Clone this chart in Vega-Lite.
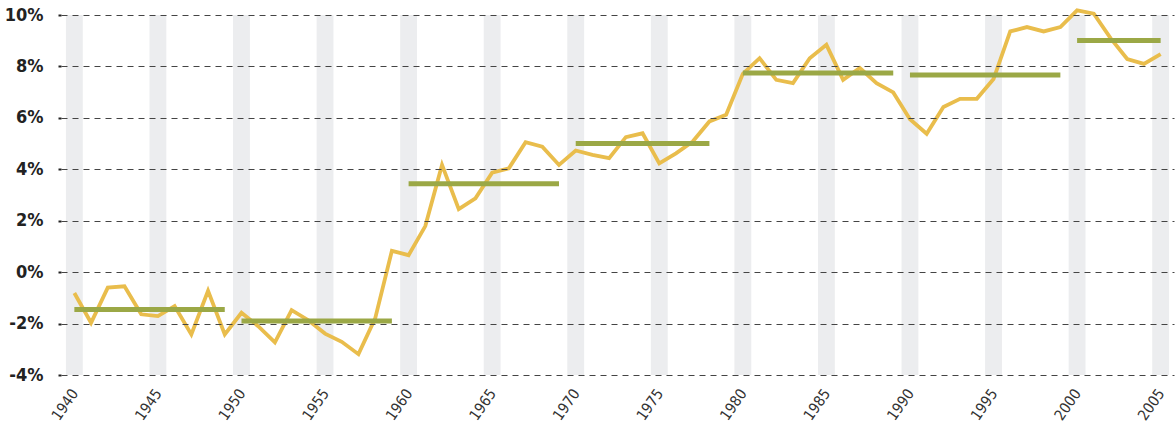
{
  "$schema": "https://vega.github.io/schema/vega-lite/v6.json",
  "width": 1113,
  "height": 360,
  "autosize": {"type": "none"},
  "padding": {"left": 61, "top": 15, "right": 1, "bottom": 53},
  "background": "white",
  "config": {"view": {"stroke": null}},
  "datasets": {
    "bands": [{"year":1940},{"year":1945},{"year":1950},{"year":1955},{"year":1960},{"year":1965},{"year":1970},{"year":1975},{"year":1980},{"year":1985},{"year":1990},{"year":1995},{"year":2000},{"year":2005}],
    "annual": [
      {"year":1940,"value":-0.81},{"year":1941,"value":-1.97},{"year":1942,"value":-0.60},{"year":1943,"value":-0.55},{"year":1944,"value":-1.64},
      {"year":1945,"value":-1.71},{"year":1946,"value":-1.32},{"year":1947,"value":-2.42},{"year":1948,"value":-0.73},{"year":1949,"value":-2.42},
      {"year":1950,"value":-1.58},{"year":1951,"value":-2.10},{"year":1952,"value":-2.73},{"year":1953,"value":-1.48},{"year":1954,"value":-1.87},
      {"year":1955,"value":-2.39},{"year":1956,"value":-2.71},{"year":1957,"value":-3.19},{"year":1958,"value":-1.80},{"year":1959,"value":0.83},
      {"year":1960,"value":0.66},{"year":1961,"value":1.79},{"year":1962,"value":4.17},{"year":1963,"value":2.45},{"year":1964,"value":2.87},
      {"year":1965,"value":3.87},{"year":1966,"value":4.04},{"year":1967,"value":5.05},{"year":1968,"value":4.88},{"year":1969,"value":4.17},
      {"year":1970,"value":4.73},{"year":1971,"value":4.56},{"year":1972,"value":4.43},{"year":1973,"value":5.25},{"year":1974,"value":5.40},
      {"year":1975,"value":4.23},{"year":1976,"value":4.62},{"year":1977,"value":5.08},{"year":1978,"value":5.86},{"year":1979,"value":6.12},
      {"year":1980,"value":7.71},{"year":1981,"value":8.32},{"year":1982,"value":7.48},{"year":1983,"value":7.35},{"year":1984,"value":8.32},
      {"year":1985,"value":8.84},{"year":1986,"value":7.48},{"year":1987,"value":7.94},{"year":1988,"value":7.35},{"year":1989,"value":6.99},
      {"year":1990,"value":5.95},{"year":1991,"value":5.38},{"year":1992,"value":6.42},{"year":1993,"value":6.74},{"year":1994,"value":6.74},
      {"year":1995,"value":7.51},{"year":1996,"value":9.36},{"year":1997,"value":9.53},{"year":1998,"value":9.36},{"year":1999,"value":9.53},
      {"year":2000,"value":10.18},{"year":2001,"value":10.05},{"year":2002,"value":9.10},{"year":2003,"value":8.29},{"year":2004,"value":8.10},
      {"year":2005,"value":8.48}
    ],
    "decades": [
      {"start":1940,"end":1949,"avg":-1.45},
      {"start":1950,"end":1959,"avg":-1.90},
      {"start":1960,"end":1969,"avg":3.44},
      {"start":1970,"end":1978,"avg":5.00},
      {"start":1980,"end":1989,"avg":7.74},
      {"start":1990,"end":1999,"avg":7.67},
      {"start":2000,"end":2005,"avg":9.01}
    ]
  },
  "layer": [
    {
      "data": {"name": "bands"},
      "mark": {"type": "bar", "color": "#ecedef", "width": 16.86, "orient": "vertical"},
      "encoding": {
        "x": {
          "field": "year", "type": "quantitative",
          "scale": {"domain": [1939.5, 2005.5], "nice": false, "zero": false},
          "axis": {
            "values": [1940,1945,1950,1955,1960,1965,1970,1975,1980,1985,1990,1995,2000,2005],
            "format": "d", "title": null, "grid": false, "domain": false, "ticks": false,
            "labelAngle": -55, "labelAlign": "right", "labelBaseline": "middle",
            "labelPadding": 15, "labelFont": "DejaVu Sans Condensed, Liberation Sans, sans-serif", "labelFontSize": 15,
            "labelColor": "#333", "labelOverlap": false, "labelBound": false, "labelFlush": false
          }
        },
        "y": {
          "datum": -4, "type": "quantitative",
          "scale": {"domain": [-4, 10], "nice": false, "zero": false},
          "axis": {
            "values": [-4,-2,0,2,4,6,8,10], "title": null, "domain": false,
            "grid": true, "gridDash": [6, 5], "gridColor": "#444", "gridWidth": 1,
            "ticks": true, "tickSize": 3, "tickWidth": 2, "tickColor": "#222",
            "labelPadding": 15, "labelFont": "DejaVu Sans Condensed, Liberation Sans, sans-serif", "labelFontWeight": "bold",
            "labelFontSize": 18, "labelColor": "#222",
            "labelExpr": "datum.value + '%'", "zindex": 1
          }
        },
        "y2": {"datum": 10}
      }
    },
    {
      "mark": {"type": "rule", "color": "#555", "strokeWidth": 1.5},
      "encoding": {"y": {"datum": 0, "type": "quantitative"}}
    },
    {
      "data": {"name": "annual"},
      "mark": {"type": "line", "color": "#e9bd4c", "strokeWidth": 3.8, "strokeJoin": "miter"},
      "encoding": {
        "x": {"field": "year", "type": "quantitative"},
        "y": {"field": "value", "type": "quantitative"}
      }
    },
    {
      "data": {"name": "decades"},
      "mark": {"type": "rule", "color": "#9ba846", "strokeWidth": 5, "strokeCap": "butt"},
      "encoding": {
        "x": {"field": "start", "type": "quantitative"},
        "x2": {"field": "end"},
        "y": {"field": "avg", "type": "quantitative"}
      }
    }
  ]
}
